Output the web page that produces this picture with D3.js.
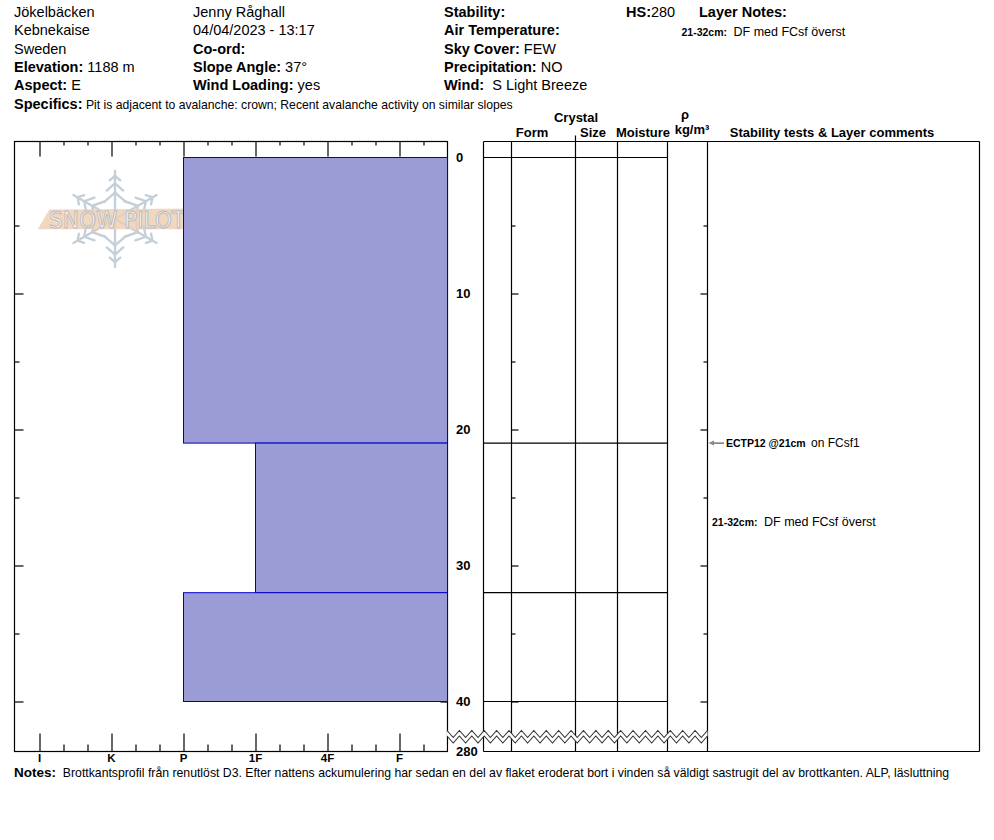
<!DOCTYPE html>
<html>
<head>
<meta charset="utf-8">
<script src="https://cdn.jsdelivr.net/npm/d3@7"></script>
<style>
  body { margin: 0; background: #fff; }
  text { font-family: "Liberation Sans", Arial, sans-serif; fill: #000; }
</style>
</head>
<body>
<svg id="pit" width="994" height="840"></svg>
<script>
// snow pit data
var hardnessLabels = ['I', 'K', 'P', '1F', '4F', 'F'];
var layerTops = [0, 21, 32];
var layerBottoms = [21, 32, 40];
var layerHardness = ['P', '1F', 'P'];
var depthLabels = [0, 10, 20, 30, 40];
var depthTicks = [5, 10, 15, 20, 25, 30, 35, 40];
var totalDepth = 280;

var testDepths = [21];
var testCodes = ['ECTP12 @21cm'];
var testLayers = ['on FCsf1'];

var commentTops = [21];
var commentBottoms = [32];
var commentTexts = ['DF med FCsf överst'];

var svg = d3.select('#pit');

var y = d3.scaleLinear().domain([0, 40]).range([157.5, 701.5]);
var x = d3.scaleLinear().domain([0, 5]).range([39.5, 399.5]);

var top0 = 141.5, bot0 = 751.5;
var gLeft = 14.5, gRight = x(5 + 2 / 3);
var cols = [483.5, 511.5, 575.5, 617.5, 667.5, 707.5];
var tRight = 979.5;

// ---------- header ----------
function field(xp, yp, label, value, size) {
  var t = svg.append('text').attr('x', xp).attr('y', yp).style('font-size', (size || 14.5) + 'px');
  if (label) t.append('tspan').style('font-weight', 'bold').text(label);
  if (value) t.append('tspan').text(value);
  return t;
}
var rows = [17, 35.3, 53.7, 72, 90.3];
field(14, rows[0], null, 'Jökelbäcken');
field(14, rows[1], null, 'Kebnekaise');
field(14, rows[2], null, 'Sweden');
field(14, rows[3], 'Elevation:', ' 1188 m');
field(14, rows[4], 'Aspect:', ' E');

field(193, rows[0], null, 'Jenny Råghall');
field(193, rows[1], null, '04/04/2023 - 13:17');
field(193, rows[2], 'Co-ord:', null);
field(193, rows[3], 'Slope Angle:', ' 37°');
field(193, rows[4], 'Wind Loading:', ' yes');

field(444, rows[0], 'Stability:', null);
field(444, rows[1], 'Air Temperature:', null);
field(444, rows[2], 'Sky Cover:', ' FEW');
field(444, rows[3], 'Precipitation:', ' NO');
field(444, rows[4], 'Wind:', '\u00a0 S Light Breeze');

field(626, rows[0], 'HS:', String(totalDepth));
field(699, rows[0], 'Layer Notes:', null);

function noteLine(xp, yp, label, txt) {
  var t = svg.append('text').attr('x', xp).attr('y', yp);
  t.append('tspan').style('font-weight', 'bold').style('font-size', '10.5px').text(label);
  t.append('tspan').attr('dx', 3).style('font-size', '12.5px').text(' ' + txt);
  return t;
}
noteLine(681.5, 36, commentTops[0] + '-' + commentBottoms[0] + 'cm:', commentTexts[0]);

var sp = svg.append('text').attr('x', 14).attr('y', 108.7);
sp.append('tspan').style('font-weight', 'bold').style('font-size', '14.5px').text('Specifics:');
sp.append('tspan').style('font-size', '12.2px').text(' Pit is adjacent to avalanche: crown; Recent avalanche activity on similar slopes');

// column headers
var heads = [['Crystal', 576, 122], ['Form', 532, 137], ['Size', 593, 137], ['Moisture', 643, 137],
             ['\u03c1', 685, 119], ['kg/m\u00b3', 692, 134], ['Stability tests & Layer comments', 832, 137]];
svg.selectAll('text.head').data(heads).enter().append('text')
  .attr('class', 'head')
  .attr('x', function(d) { return d[1]; })
  .attr('y', function(d) { return d[2]; })
  .attr('text-anchor', 'middle')
  .style('font-size', '13px').style('font-weight', 'bold')
  .text(function(d) { return d[0]; });

// ---------- logo ----------
var logo = svg.append('g').attr('transform', 'translate(115,219)')
  .attr('stroke', '#c5cfd8').attr('stroke-width', 2.4).attr('fill', 'none').attr('stroke-linecap', 'round');
d3.range(6).forEach(function(i) {
  var arm = logo.append('g').attr('transform', 'rotate(' + (i * 60) + ')');
  arm.append('line').attr('x1', 0).attr('y1', 0).attr('x2', 0).attr('y2', -48);
  [[18, 14], [29, 11], [39, 7]].forEach(function(b) {
    arm.append('path').attr('d', 'M' + (-b[1] * 0.75) + ',' + (-b[0] + b[1] * 0.05) + ' L0,' + (-b[0] - b[1] * 0.6) + ' L' + (b[1] * 0.75) + ',' + (-b[0] + b[1] * 0.05));
  });
});
svg.append('polygon')
  .attr('points', '37.7,229.3 49.3,209.5 195,208.5 184,229.3')
  .attr('fill', '#efcdb0').attr('opacity', 0.8);
svg.append('text').attr('x', 117).attr('y', 228).attr('text-anchor', 'middle')
  .attr('textLength', 136).attr('lengthAdjust', 'spacingAndGlyphs')
  .style('font-family', '"DejaVu Sans", sans-serif').style('font-size', '23px')
  .style('fill', '#f7f7f7').style('stroke', '#b9b9b9').style('stroke-width', 1)
  .text('SNOW PILOT');

// ---------- hardness graph frame & ticks ----------
var frame = svg.append('g').attr('stroke', '#000').attr('stroke-width', 1.2).attr('fill', 'none');
frame.append('rect').attr('x', gLeft).attr('y', top0).attr('width', gRight - gLeft).attr('height', bot0 - top0);

var majors = d3.range(0, 6);
var minors = d3.range(1, 17).filter(function(k) { return k % 3 !== 0; }).map(function(k) { return k / 3; });

function hAxis(axisFn, yp, vals, size) {
  var g = svg.append('g').attr('transform', 'translate(0,' + yp + ')')
    .call(axisFn(x).tickValues(vals).tickSize(size).tickSizeOuter(0).tickFormat(''));
  g.select('.domain').remove();
  g.selectAll('line').attr('stroke', '#000').attr('stroke-width', 1.2);
}
hAxis(d3.axisTop, top0, majors, -15);
hAxis(d3.axisTop, top0, minors, -4);
hAxis(d3.axisBottom, bot0, majors, -18);
hAxis(d3.axisBottom, bot0, minors, -7);

function vAxis(axisFn, xp, size5, size10) {
  [[depthTicks.filter(function(d) { return d % 10 !== 0; }), size5],
   [depthTicks.filter(function(d) { return d % 10 === 0; }), size10]].forEach(function(p) {
    var g = svg.append('g').attr('transform', 'translate(' + xp + ',0)')
      .call(axisFn(y).tickValues(p[0]).tickSize(p[1]).tickSizeOuter(0).tickFormat(''));
    g.select('.domain').remove();
    g.selectAll('line').attr('stroke', '#000').attr('stroke-width', 1.2);
  });
}
vAxis(d3.axisRight, gLeft, 5, 9);
vAxis(d3.axisLeft, gRight, 4, 7);

// layers
svg.selectAll('rect.layer').data(layerTops).enter().append('rect')
  .attr('class', 'layer')
  .attr('x', function(d, i) { return x(hardnessLabels.indexOf(layerHardness[i])); })
  .attr('y', function(d) { return y(d); })
  .attr('width', function(d, i) { return gRight - x(hardnessLabels.indexOf(layerHardness[i])); })
  .attr('height', function(d, i) { return y(layerBottoms[i]) - y(d); })
  .attr('fill', '#9b9bd6').attr('stroke', '#0000c8').attr('stroke-width', 1);

// ---------- table ----------
var tbl = svg.append('g').attr('stroke', '#000').attr('stroke-width', 1.2).attr('fill', 'none');
tbl.append('line').attr('x1', cols[0]).attr('x2', tRight).attr('y1', top0).attr('y2', top0);
tbl.append('line').attr('x1', cols[0]).attr('x2', tRight).attr('y1', bot0).attr('y2', bot0);
tbl.append('line').attr('x1', tRight).attr('x2', tRight).attr('y1', top0).attr('y2', bot0);
tbl.selectAll('line.col').data(cols).enter().append('line')
  .attr('class', 'col')
  .attr('x1', function(d) { return d; }).attr('x2', function(d) { return d; })
  .attr('y1', function(d, i) { return i === 2 ? top0 - 6 : top0; }).attr('y2', bot0);
tbl.selectAll('line.bound').data(layerTops.concat([layerBottoms[layerBottoms.length - 1]])).enter().append('line')
  .attr('class', 'bound')
  .attr('x1', cols[0]).attr('x2', cols[4])
  .attr('y1', function(d) { return y(d); }).attr('y2', function(d) { return y(d); });
vAxis(d3.axisRight, cols[1], 4, 7);
vAxis(d3.axisLeft, cols[5], 4, 7);

// depth labels
svg.selectAll('text.depth').data(depthLabels).enter().append('text')
  .attr('class', 'depth')
  .attr('x', 456).attr('y', function(d) { return y(d) + 4.7; })
  .style('font-size', '13px').style('font-weight', 'bold')
  .text(function(d) { return d; });

// ---------- depth break (zigzag) ----------
var zx0 = gRight - 0.5, zx1 = cols[5], teeth = 21;
var zStep = (zx1 - zx0) / (teeth * 2);
var upper = d3.range(teeth * 2 + 1).map(function(i) { return [zx0 + i * zStep, i % 2 ? 737.5 : 730.5]; });
var lower = upper.map(function(p) { return [p[0], p[1] + 5.5]; });
svg.append('path').attr('d', d3.line()(upper.concat(lower.slice().reverse())) + 'Z')
  .attr('fill', '#fff').attr('stroke', 'none');
[upper, lower].forEach(function(pts) {
  svg.append('path').attr('d', d3.line()(pts)).attr('fill', 'none').attr('stroke', '#333').attr('stroke-width', 1.1);
});
svg.append('rect').attr('x', gRight + 1).attr('y', 745).attr('width', cols[0] - gRight - 2).attr('height', 10).attr('fill', '#fff');
svg.append('text').attr('x', 456).attr('y', 755.5)
  .style('font-size', '13px').style('font-weight', 'bold').text(totalDepth);

// ---------- stability tests & comments ----------
testDepths.forEach(function(d, i) {
  var yy = y(d);
  svg.append('line').attr('x1', 713).attr('x2', 724).attr('y1', yy).attr('y2', yy).attr('stroke', '#333').attr('stroke-width', 1);
  svg.append('polygon').attr('points', [[708.5, yy], [714, yy - 2.5], [714, yy + 2.5]].join(' ')).attr('fill', '#888');
  var t = svg.append('text').attr('x', 726).attr('y', yy + 4);
  t.append('tspan').style('font-size', '10.5px').style('font-weight', 'bold').text(testCodes[i]);
  t.append('tspan').attr('dx', 2).style('font-size', '12px').text(' ' + testLayers[i]);
});
commentTops.forEach(function(d, i) {
  noteLine(712, y((d + commentBottoms[i]) / 2) + 8.5, d + '-' + commentBottoms[i] + 'cm:', commentTexts[i]);
});

// hardness labels
svg.selectAll('text.hard').data(hardnessLabels).enter().append('text')
  .attr('class', 'hard')
  .attr('x', function(d, i) { return x(i); }).attr('y', 761.5)
  .attr('text-anchor', 'middle')
  .style('font-size', '11.5px').style('font-weight', 'bold')
  .text(function(d) { return d; });

// ---------- notes ----------
var nt = svg.append('text').attr('x', 14).attr('y', 777);
nt.append('tspan').style('font-weight', 'bold').style('font-size', '13.5px').text('Notes:');
nt.append('tspan').style('font-size', '12.25px').text('\u00a0 Brottkantsprofil från renutlöst D3. Efter nattens ackumulering har sedan en del av flaket eroderat bort i vinden så väldigt sastrugit del av brottkanten. ALP, läsluttning');
</script>
</body>
</html>
